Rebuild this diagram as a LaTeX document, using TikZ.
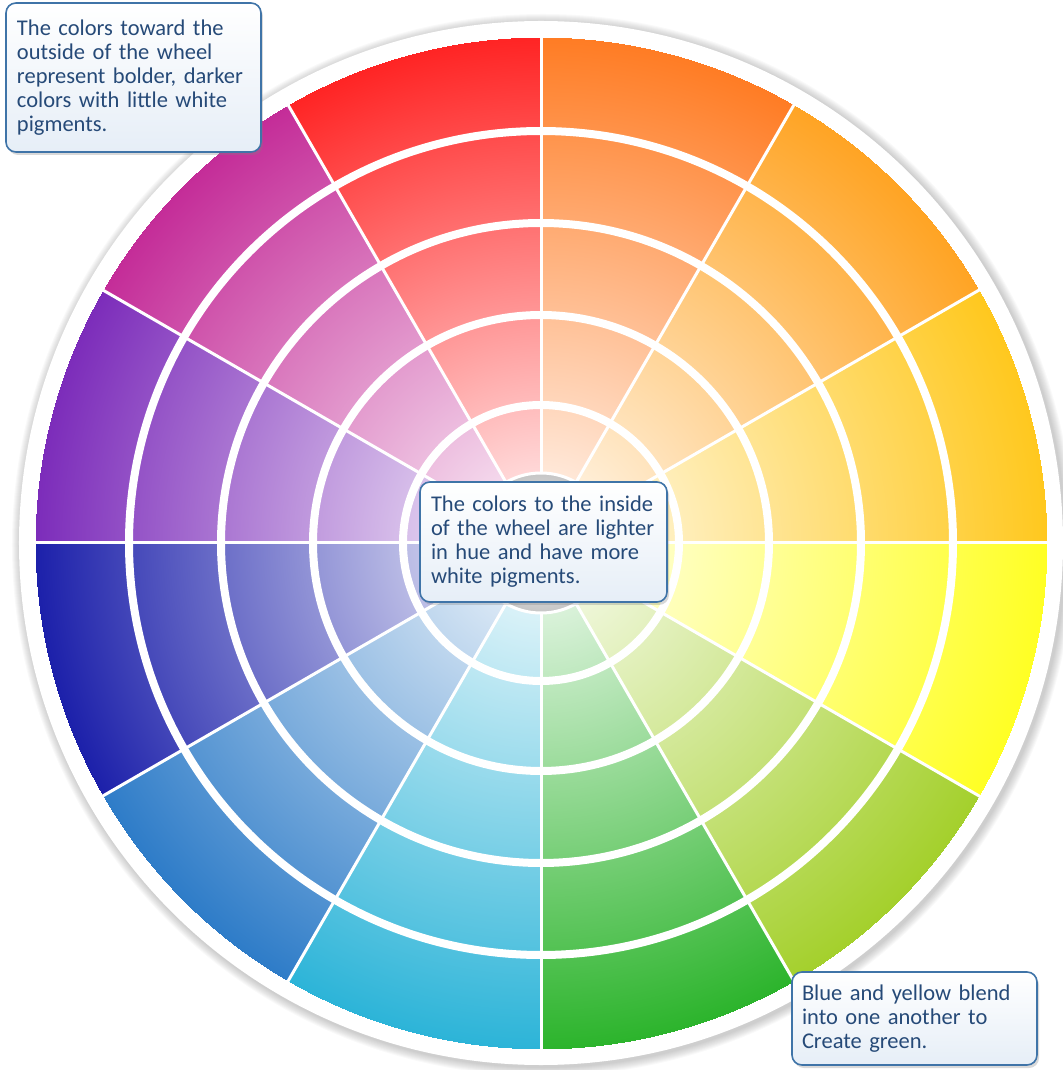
\documentclass[tikz,border=0pt]{standalone}
\usepackage{fontspec}
\setmainfont{Carlito}
\usetikzlibrary{shadows}
\definecolor{notetx}{HTML}{264A78}
\definecolor{notebd}{HTML}{3F74A8}
\definecolor{notebg}{HTML}{E6EEF7}
\pgfdeclareradialshading[hubc]{spoke}{\pgfpoint{0bp}{0bp}}{color(0bp)=(white); color(7bp)=(hubc!18!white); color(50bp)=(hubc)}
\tikzset{
  note/.style={draw=notebd, line width=1.6pt, rounded corners=10pt, top color=white, bottom color=notebg,
    drop shadow={opacity=0.3, shadow xshift=2pt, shadow yshift=-3pt}, text=notetx, align=left,
    inner sep=0pt, font=\fontsize{22.5}{24}\selectfont},
  gap/.style={white, line width=8pt},
  rib/.style={white, line width=3pt}
}
\begin{document}
\begin{tikzpicture}[x=1pt,y=1pt]
\useasboundingbox (-541,-527) rectangle (521,543);
\foreach \k in {1,...,9}
  \fill[black, opacity=0.025] (2,-2) circle (522+\k);
\fill[white] (0,0) circle (522);
\foreach \a/\c in {90/FF2424,60/FF7C24,30/FFA424,0/FFC81E,-30/FFFF24,-60/A4D02C,
    -90/2CB42C,-120/2CB4D8,-150/2E7CC8,180/1C20AA,150/7C2CBA,120/C42C98}{
  \definecolor{hubc}{HTML}{\c}
  \begin{scope}
    \clip (0,0) -- (\a:507) arc[start angle=\a, end angle=\a+30, radius=507] -- cycle;
    \begin{scope}[transform canvas={scale=10.08}]
      \pgfuseshading{spoke}
    \end{scope}
  \end{scope}
}
\foreach \r in {138,228,320,412}
  \draw[gap] (0,0) circle (\r);
\foreach \a in {0,30,...,330}
  \draw[rib] (\a:70) -- (\a:507);
\shade[inner color=white, outer color=gray!45, draw=white, line width=3pt] (0,0) circle (70);
\node[note, minimum width=255pt, minimum height=149pt, text width=233pt] (outer) at (-407.5,465.5)
  {The colors toward the\\outside of the wheel\\represent bolder, darker\\colors with little white\\pigments.};
\node[note, minimum width=247pt, minimum height=120pt, text width=225pt] (inner) at (2.5,1)
  {The colors to the inside\\of the wheel are lighter\\in hue and have more\\white pigments.};
\node[note, minimum width=245pt, minimum height=93pt, text width=225pt] (green) at (373.5,-475.5)
  {Blue and yellow blend\\into one another to\\Create green.};
\end{tikzpicture}
\end{document}
